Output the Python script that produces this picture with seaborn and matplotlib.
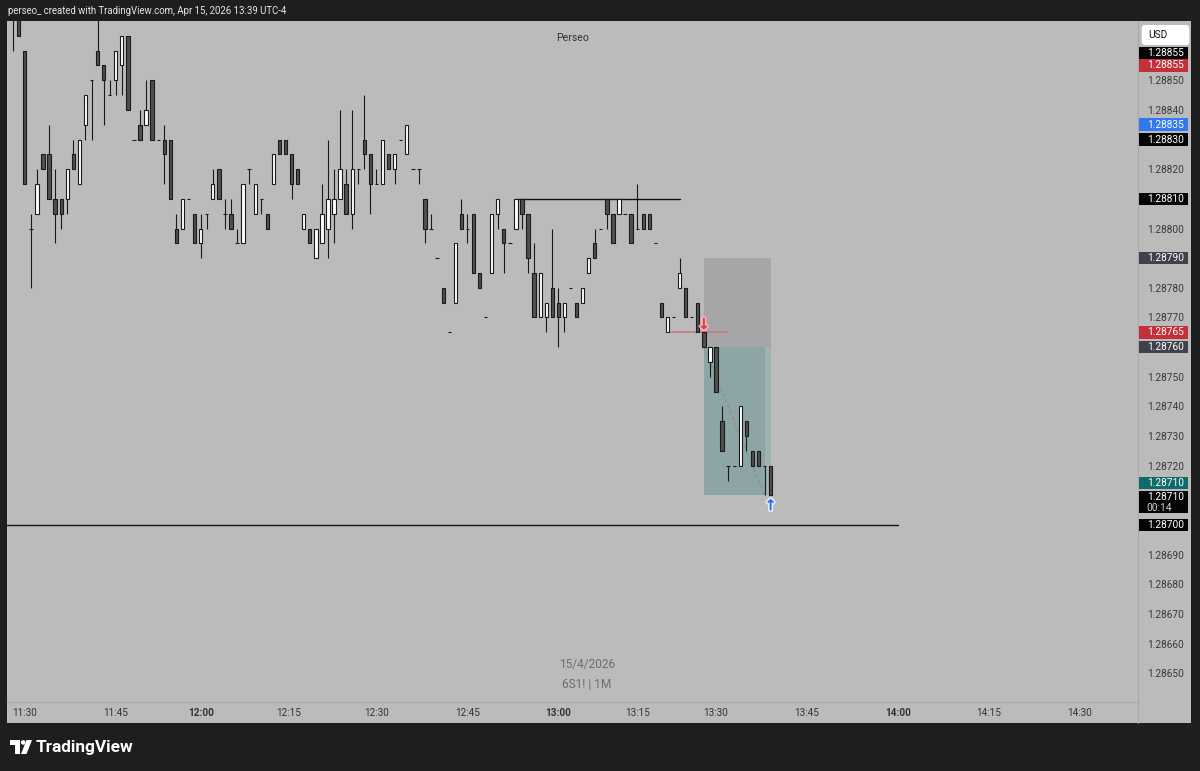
import matplotlib
matplotlib.use("Agg")
import matplotlib.pyplot as plt
import matplotlib.patheffects as pe
import numpy as np
import seaborn as sns
from matplotlib.patches import Rectangle, FancyBboxPatch, Polygon, Circle

# 6S1! 1-minute bars, 11:28 -> 13:39 (bars without trades are skipped)
opens = [
    1.28880, 1.28885, 1.28860, 1.28800, 1.28805, 1.28825, 1.28825, 1.28810, 1.28810, 1.28810,
    1.28825, 1.28815, 1.28835, 1.28850, 1.28860, 1.28855, 1.28845, 1.28850, 1.28855, 1.28865,
    1.28830, 1.28835, 1.28835, 1.28850, 1.28830, 1.28830, 1.28830, 1.28800, 1.28800, 1.28810,
    1.28805, 1.28795, 1.28805, 1.28810, 1.28820, 1.28805, 1.28805, 1.28795, 1.28795, 1.28820,
    1.28805, 1.28810, 1.28805, 1.28815, 1.28830, 1.28830, 1.28825, 1.28820, 1.28800, 1.28800,
    1.28790, 1.28795, 1.28800, 1.28805, 1.28810, 1.28815, 1.28805, 1.28820, 1.28830, 1.28825,
    1.28815, 1.28815, 1.28825, 1.28820, 1.28830, 1.28825, 1.28820, 1.28820, 1.28810, 1.28800,
    1.28790, 1.28780, 1.28765, 1.28775, 1.28805, 1.28800, 1.28805, 1.28785, 1.28770, 1.28785,
    1.28805, 1.28800, 1.28795, 1.28800, 1.28810, 1.28805, 1.28785, 1.28770, 1.28770, 1.28780,
    1.28775, 1.28770, 1.28780, 1.28775, 1.28775, 1.28785, 1.28795, 1.28800, 1.28810, 1.28805,
    1.28805, 1.28805, 1.28805, 1.28800, 1.28805, 1.28805, 1.28795, 1.28775, 1.28765, 1.28770,
    1.28780, 1.28780, 1.28770, 1.28775, 1.28765, 1.28755, 1.28760, 1.28735, 1.28720, 1.28720,
    1.28720, 1.28735, 1.28725, 1.28725, 1.28720, 1.28720,
]
highs = [
    1.28885, 1.28890, 1.28860, 1.28805, 1.28820, 1.28825, 1.28835, 1.28820, 1.28810, 1.28820,
    1.28830, 1.28830, 1.28845, 1.28850, 1.28875, 1.28855, 1.28850, 1.28860, 1.28865, 1.28865,
    1.28830, 1.28840, 1.28850, 1.28850, 1.28830, 1.28835, 1.28830, 1.28805, 1.28810, 1.28810,
    1.28805, 1.28805, 1.28805, 1.28820, 1.28820, 1.28810, 1.28810, 1.28800, 1.28815, 1.28820,
    1.28815, 1.28810, 1.28805, 1.28825, 1.28830, 1.28830, 1.28825, 1.28820, 1.28805, 1.28800,
    1.28800, 1.28815, 1.28830, 1.28820, 1.28840, 1.28820, 1.28840, 1.28820, 1.28845, 1.28825,
    1.28820, 1.28830, 1.28825, 1.28825, 1.28830, 1.28835, 1.28820, 1.28820, 1.28810, 1.28805,
    1.28790, 1.28780, 1.28765, 1.28795, 1.28810, 1.28805, 1.28805, 1.28785, 1.28770, 1.28805,
    1.28810, 1.28800, 1.28795, 1.28810, 1.28810, 1.28805, 1.28795, 1.28785, 1.28775, 1.28800,
    1.28780, 1.28775, 1.28780, 1.28775, 1.28780, 1.28790, 1.28800, 1.28800, 1.28810, 1.28805,
    1.28810, 1.28805, 1.28805, 1.28815, 1.28805, 1.28805, 1.28795, 1.28775, 1.28770, 1.28770,
    1.28790, 1.28780, 1.28770, 1.28775, 1.28765, 1.28760, 1.28760, 1.28740, 1.28720, 1.28720,
    1.28740, 1.28735, 1.28725, 1.28725, 1.28720, 1.28720,
]
lows = [
    1.28860, 1.28865, 1.28815, 1.28780, 1.28805, 1.28820, 1.28810, 1.28795, 1.28800, 1.28805,
    1.28820, 1.28815, 1.28830, 1.28830, 1.28855, 1.28835, 1.28845, 1.28845, 1.28845, 1.28840,
    1.28830, 1.28830, 1.28835, 1.28830, 1.28830, 1.28815, 1.28810, 1.28795, 1.28800, 1.28810,
    1.28795, 1.28790, 1.28800, 1.28810, 1.28810, 1.28800, 1.28800, 1.28795, 1.28795, 1.28815,
    1.28805, 1.28805, 1.28800, 1.28815, 1.28825, 1.28825, 1.28810, 1.28815, 1.28800, 1.28795,
    1.28790, 1.28795, 1.28790, 1.28795, 1.28810, 1.28805, 1.28800, 1.28815, 1.28820, 1.28805,
    1.28815, 1.28815, 1.28820, 1.28815, 1.28830, 1.28825, 1.28820, 1.28815, 1.28795, 1.28800,
    1.28790, 1.28775, 1.28765, 1.28775, 1.28800, 1.28795, 1.28785, 1.28780, 1.28770, 1.28785,
    1.28800, 1.28785, 1.28795, 1.28800, 1.28800, 1.28785, 1.28770, 1.28770, 1.28765, 1.28770,
    1.28760, 1.28765, 1.28780, 1.28770, 1.28775, 1.28785, 1.28790, 1.28800, 1.28800, 1.28795,
    1.28805, 1.28805, 1.28795, 1.28800, 1.28800, 1.28800, 1.28795, 1.28770, 1.28765, 1.28770,
    1.28780, 1.28770, 1.28770, 1.28765, 1.28760, 1.28750, 1.28745, 1.28725, 1.28715, 1.28720,
    1.28720, 1.28725, 1.28720, 1.28720, 1.28710, 1.28710,
]
closes = [
    1.28875, 1.28865, 1.28815, 1.28800, 1.28815, 1.28820, 1.28810, 1.28805, 1.28805, 1.28820,
    1.28820, 1.28830, 1.28845, 1.28850, 1.28855, 1.28850, 1.28845, 1.28860, 1.28865, 1.28840,
    1.28830, 1.28830, 1.28840, 1.28830, 1.28830, 1.28825, 1.28810, 1.28795, 1.28810, 1.28810,
    1.28795, 1.28800, 1.28805, 1.28815, 1.28810, 1.28805, 1.28800, 1.28795, 1.28815, 1.28820,
    1.28815, 1.28810, 1.28800, 1.28825, 1.28825, 1.28825, 1.28815, 1.28815, 1.28805, 1.28795,
    1.28800, 1.28805, 1.28810, 1.28810, 1.28820, 1.28805, 1.28820, 1.28820, 1.28825, 1.28815,
    1.28815, 1.28830, 1.28820, 1.28825, 1.28830, 1.28835, 1.28820, 1.28820, 1.28800, 1.28800,
    1.28790, 1.28775, 1.28765, 1.28795, 1.28800, 1.28800, 1.28785, 1.28780, 1.28770, 1.28805,
    1.28810, 1.28795, 1.28795, 1.28810, 1.28805, 1.28790, 1.28770, 1.28785, 1.28775, 1.28770,
    1.28770, 1.28775, 1.28780, 1.28770, 1.28780, 1.28790, 1.28790, 1.28800, 1.28805, 1.28795,
    1.28810, 1.28805, 1.28795, 1.28800, 1.28800, 1.28800, 1.28795, 1.28770, 1.28770, 1.28770,
    1.28785, 1.28770, 1.28770, 1.28765, 1.28760, 1.28760, 1.28745, 1.28725, 1.28720, 1.28720,
    1.28740, 1.28730, 1.28720, 1.28720, 1.28720, 1.28710,
]

time_labels = ["11:30", "11:45", "12:00", "12:15", "12:30", "12:45", "13:00",
               "13:15", "13:30", "13:45", "14:00", "14:15", "14:30"]
time_bars = [2, 17, 31, 45.5, 60, 75, 90, 103, 116, 131, 146, 161, 176]
bold_labels = ["12:00", "13:00", "14:00"]

price_ticks = [1.28850, 1.28840, 1.28820, 1.28800, 1.28780, 1.28770, 1.28750, 1.28740,
               1.28730, 1.28720, 1.28690, 1.28680, 1.28670, 1.28660, 1.28650]

# drawings
range_high = 1.28810
range_bars = (83, 110)
floor_level = 1.28700
floor_end_bar = 146
red_level = 1.28765
red_bars = (108, 118)
entry_price, stop_price, target_price = 1.28760, 1.28790, 1.28710
entry_bar, last_bar = 114, 125

# price scale tags: text, price, colour, shift in px (stacking)
price_tags = [
    ("1.28855", 1.28855, "#050505", 12.5),
    ("1.28855", 1.28855, "#c3303a", 0),
    ("1.28835", 1.28835, "#3079f0", 0),
    ("1.28830", 1.28830, "#050505", 0),
    ("1.28810", 1.28810, "#050505", 0),
    ("1.28790", 1.28790, "#3f424b", 0),
    ("1.28765", 1.28765, "#c3303a", 0),
    ("1.28760", 1.28760, "#3f424b", 0),
    ("1.28710", 1.28710, "#0f6b6b", 12.5),
    ("1.28700", 1.28700, "#050505", 0),
]
last_price = 1.28710
countdown = "00:14"

BG = "#bbbbbb"
DARK = "#1e1e1e"
W, H = 1200, 771
Y0, Y1 = 1.286403, 1.288700
X0, X1 = -0.89, 185.6

sns.set_theme(style="white")
plt.rcParams["font.family"] = ["Roboto", "DejaVu Sans"]

fig = plt.figure(figsize=(12, 7.71), dpi=100, facecolor=DARK)

# chrome layer in pixel coordinates
ov = fig.add_axes([0, 0, 1, 1], zorder=0)
ov.set_xlim(0, W)
ov.set_ylim(H, 0)
ov.axis("off")
ov.add_patch(Rectangle((7.3, 21), 1191 - 7.3, 723 - 21, color=BG, lw=0))
ov.plot([1138, 1138], [702, 723], color="#a9a9a9", lw=0.8)
ov.text(8, 10.5, "perseo_ created with TradingView.com, Apr 15, 2026 13:39 UTC-4",
        color="#e6e6e6", fontsize=6.9, va="center", ha="left")
ov.add_patch(FancyBboxPatch((1141.7, 25), 47.6, 20, boxstyle="round,pad=0,rounding_size=3",
                            fc="white", ec="none"))
ov.text(1148, 35.5, "USD", fontsize=7.3, color="#111111", va="center", ha="left")
# logo
ov.add_patch(Rectangle((10, 740), 9.5, 4.5, color="white", lw=0))
ov.add_patch(Rectangle((14.8, 740), 4.7, 14, color="white", lw=0))
ov.add_patch(Circle((23.2, 742.4), 2.3, color="white", lw=0))
ov.add_patch(Polygon([[26.5, 740], [32, 740], [26.5, 754], [21, 754]], color="white", lw=0))
ov.text(36, 747.5, "TradingView", color="white", fontsize=12.4, fontweight="bold",
        va="center", ha="left")

# main chart
ax = fig.add_axes([7.3 / W, (H - 702) / H, (1138 - 7.3) / W, (702 - 21) / H], zorder=1)
ax.set_facecolor(BG)
ax.set_xlim(X0, X1)
ax.set_ylim(Y0, Y1)
for side in ["top", "left"]:
    ax.spines[side].set_visible(False)
for side in ["bottom", "right"]:
    ax.spines[side].set_color("#a9a9a9")
    ax.spines[side].set_linewidth(0.8)

o = np.array(opens)
h = np.array(highs)
lo = np.array(lows)
c = np.array(closes)
bars = np.arange(len(o))
up = c >= o

# position tool
ax.fill_between([entry_bar, last_bar], entry_price, stop_price, color="#a6a6a8", lw=0, zorder=1)
ax.fill_between([entry_bar, last_bar], target_price, entry_price, color="#9fb2b1", lw=0, zorder=1)
ax.fill_between([entry_bar, last_bar - 1], target_price, entry_price, color="#8da6a5", lw=0, zorder=1)
ax.plot([entry_bar, last_bar - 1], [entry_price, target_price], color="#7f9392",
        lw=0.9, ls=(0, (3, 2)), zorder=2)

# lines
ax.plot(range_bars, [range_high, range_high], color="#111111", lw=1, zorder=2)
ax.plot([X0, floor_end_bar], [floor_level, floor_level], color="#111111", lw=1, zorder=2)
ax.plot(red_bars, [red_level, red_level], color="#c47a7e", lw=1.2, zorder=2)

# candles
ax.vlines(bars, lo, h, color="#1a1a1a", lw=0.8, zorder=3)
ax.bar(bars[up], (c - o)[up], bottom=o[up], width=0.55, color="white",
       edgecolor="#1a1a1a", linewidth=0.8, zorder=4)
ax.bar(bars[~up], (o - c)[~up], bottom=c[~up], width=0.55, color="#4f4f4f",
       edgecolor="#1a1a1a", linewidth=0.8, zorder=4)

# trade markers
ax.text(entry_bar, red_level + 0.000024, "\u2193", color="#e3343f", fontsize=11,
        fontweight="bold", ha="center", va="center", zorder=6,
        path_effects=[pe.withStroke(linewidth=2.4, foreground="#f2b3b7")])
ax.text(last_bar, target_price - 0.000037, "\u2191", color="#2962ff", fontsize=11,
        fontweight="bold", ha="center", va="center", zorder=6,
        path_effects=[pe.withStroke(linewidth=2.4, foreground="#e8eeff")])

# texts on chart
ax.text(0.5, 0.975, "Perseo", transform=ax.transAxes, ha="center", va="center",
        fontsize=7.6, color="#333333")
ax.text(0.5127, 0.0558, "15/4/2026", transform=ax.transAxes, ha="center", va="center",
        fontsize=8.6, color="#6e6e6e")
ax.text(0.5127, 0.0264, "6S1! | 1M", transform=ax.transAxes, ha="center", va="center",
        fontsize=8.6, color="#6e6e6e")

# axes ticks
ax.yaxis.tick_right()
ax.set_yticks(price_ticks, [f"{v:.5f}" for v in price_ticks])
ax.tick_params(axis="y", length=0, pad=6.5, labelsize=7.3, labelcolor="#3a3a3a")
ax.set_xticks(time_bars, time_labels)
ax.tick_params(axis="x", length=0, pad=4, labelsize=7.2, labelcolor="#333333")
for lab in ax.get_xticklabels():
    if lab.get_text() in bold_labels:
        lab.set_fontweight("bold")

# price scale tags
axp = fig.add_axes([1138 / W, (H - 702) / H, 53 / W, (702 - 21) / H], zorder=2)
axp.set_xlim(0, 53)
axp.set_ylim(Y0, Y1)
axp.axis("off")
axp.patch.set_alpha(0)
ppx = (Y1 - Y0) / (702 - 21)
for text, value, colour, shift in price_tags:
    yc = value + shift * ppx
    axp.add_patch(Rectangle((1, yc - 6.3 * ppx), 49.3, 12.6 * ppx, color=colour, lw=0))
    axp.text(8.7, yc, text, color="white", fontsize=7.3, va="center", ha="left")
yc = last_price - 6.7 * ppx
axp.add_patch(Rectangle((1, yc - 11.3 * ppx), 49.3, 22.6 * ppx, color="#050505", lw=0))
axp.text(8.7, yc + 5.3 * ppx, f"{last_price:.5f}", color="white", fontsize=7.3,
         va="center", ha="left")
axp.text(8.7, yc - 5.6 * ppx, countdown, color="#d0d0d0", fontsize=7.3,
         va="center", ha="left")

fig.savefig("out.png", dpi=100, facecolor=DARK)
